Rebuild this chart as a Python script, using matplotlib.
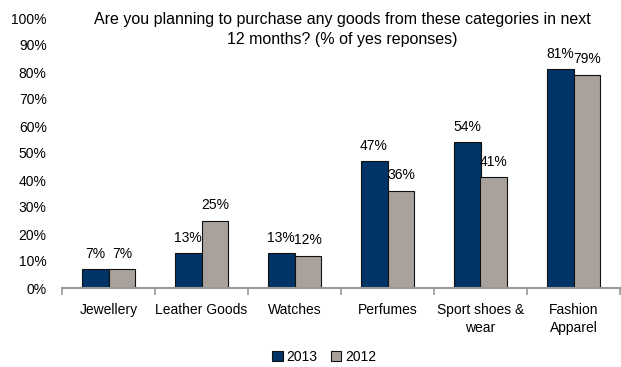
import numpy as np
import matplotlib.pyplot as plt

plt.rcParams['font.family'] = ['Liberation Sans', 'DejaVu Sans']

categories = ['Jewellery', 'Leather Goods', 'Watches', 'Perfumes',
              'Sport shoes &\nwear', 'Fashion\nApparel']
values_2013 = [7, 13, 13, 47, 54, 81]
values_2012 = [7, 25, 12, 36, 41, 79]
years = ['2013', '2012']

fig = plt.figure(figsize=(6.21, 3.67), dpi=100)
ax = fig.add_axes([62 / 621, 1 - 288 / 367, 558 / 621, 270 / 367])

x = np.arange(len(categories))
w = 0.29
b1 = ax.bar(x - w / 2, values_2013, w, color='#003366', edgecolor='#111111',
            linewidth=0.8, label=years[0])
b2 = ax.bar(x + w / 2, values_2012, w, color='#A9A29C', edgecolor='#111111',
            linewidth=0.8, label=years[1])

for bars, vals in ((b1, values_2013), (b2, values_2012)):
    for bar, v in zip(bars, vals):
        ax.annotate(f'{v}%', (bar.get_x() + bar.get_width() / 2, v),
                    xytext=(0, 6), textcoords='offset points',
                    ha='center', va='bottom', fontsize=10)

ax.set_xlim(-0.5, len(categories) - 0.5)
ax.set_ylim(0, 100)
ax.set_yticks(range(0, 101, 10))
ax.set_yticklabels([f'{t}%' for t in range(0, 101, 10)], fontsize=10)
ax.tick_params(axis='y', length=0, pad=11)

ax.set_xticks(x)
ax.set_xticklabels(categories, fontsize=10, linespacing=1.35)
ax.set_xticks(np.arange(-0.5, len(categories)), minor=True)
ax.tick_params(axis='x', which='major', length=0, pad=11)
ax.tick_params(axis='x', which='minor', length=5, color='#999999', width=1.2)

for s in ('top', 'right', 'left'):
    ax.spines[s].set_visible(False)
ax.spines['bottom'].set_color('#999999')
ax.spines['bottom'].set_linewidth(1.5)

fig.text(342 / 621, 1 - 12 / 367,
         'Are you planning to purchase any goods from these categories in next\n12 months? (% of yes reponses)',
         ha='center', va='top', fontsize=11.5, linespacing=1.45)

fig.legend(handles=[b1, b2], loc='center', bbox_to_anchor=(324 / 621, 1 - 357 / 367),
           ncol=2, frameon=False, fontsize=10, handlelength=0.75, handleheight=0.75,
           handletextpad=0.25, columnspacing=1.0, borderpad=0)

fig.savefig('out.png', dpi=100)
